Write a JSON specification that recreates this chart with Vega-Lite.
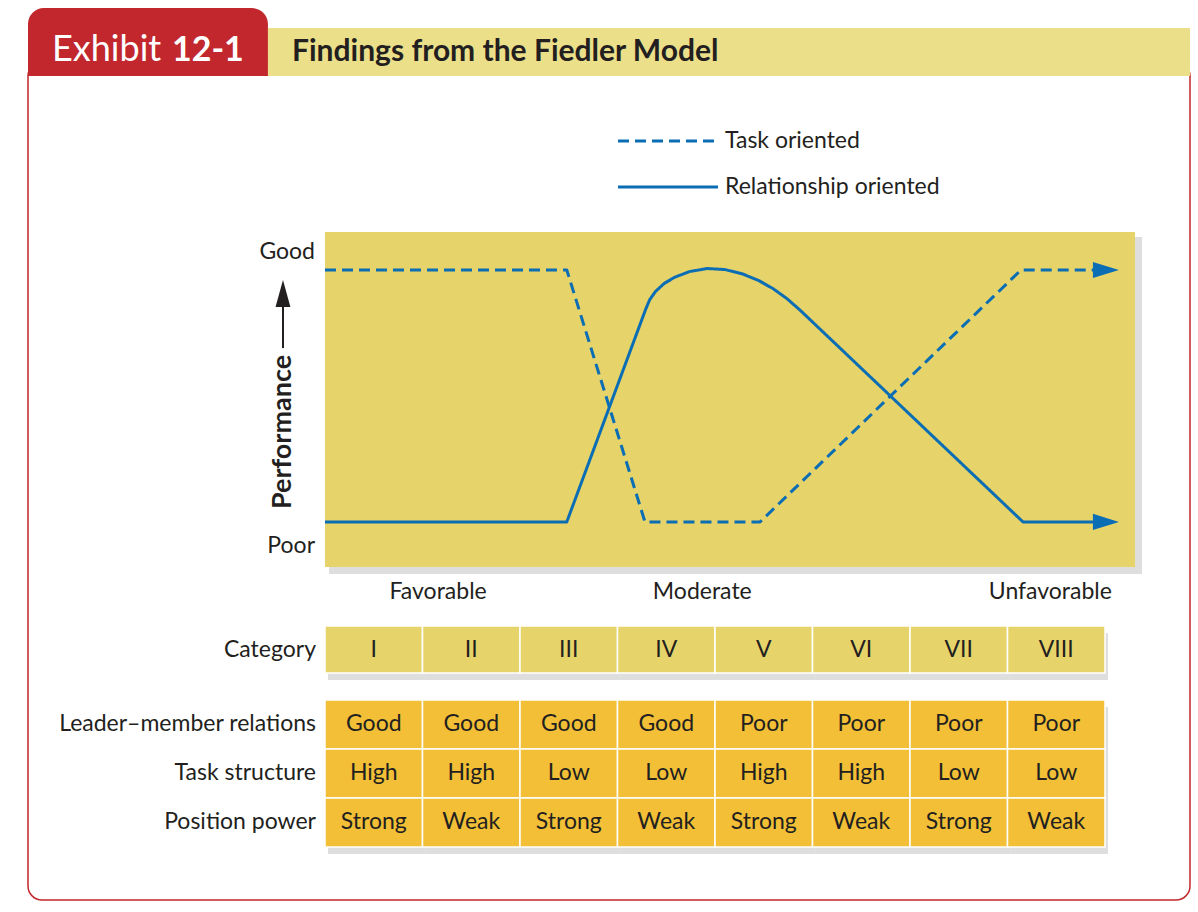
{
  "$schema": "https://vega.github.io/schema/vega-lite/v6.json",
  "width": 1162,
  "height": 838,
  "padding": {"left": 28, "top": 62, "right": 8, "bottom": 12},
  "autosize": {"type": "none"},
  "background": "white",
  "config": {
    "font": "Lato",
    "view": {"stroke": "#c1272d", "strokeWidth": 1.5, "cornerRadius": 14},
    "text": {"color": "#231f20", "fontSize": 23, "baseline": "middle"}
  },
  "datasets": {
    "lines": [
      {"style": "Task oriented", "pos": 0.5, "perf": 1},
      {"style": "Task oriented", "pos": 2.98, "perf": 1},
      {"style": "Task oriented", "pos": 3.782, "perf": 0},
      {"style": "Task oriented", "pos": 4.962, "perf": 0},
      {"style": "Task oriented", "pos": 7.638, "perf": 1},
      {"style": "Task oriented", "pos": 8.45, "perf": 1},
      {"style": "Relationship oriented", "pos": 0.5, "perf": 0},
      {"style": "Relationship oriented", "pos": 2.98, "perf": 0},
      {"style": "Relationship oriented", "pos": 3.79, "perf": 0.845},
      {"style": "Relationship oriented", "pos": 3.83, "perf": 0.882},
      {"style": "Relationship oriented", "pos": 3.89, "perf": 0.915},
      {"style": "Relationship oriented", "pos": 3.98, "perf": 0.947},
      {"style": "Relationship oriented", "pos": 4.09, "perf": 0.972},
      {"style": "Relationship oriented", "pos": 4.24, "perf": 0.994},
      {"style": "Relationship oriented", "pos": 4.42, "perf": 1.006},
      {"style": "Relationship oriented", "pos": 4.6, "perf": 1.002},
      {"style": "Relationship oriented", "pos": 4.78, "perf": 0.985},
      {"style": "Relationship oriented", "pos": 4.95, "perf": 0.958},
      {"style": "Relationship oriented", "pos": 5.1, "perf": 0.925},
      {"style": "Relationship oriented", "pos": 5.24, "perf": 0.886},
      {"style": "Relationship oriented", "pos": 5.38, "perf": 0.838},
      {"style": "Relationship oriented", "pos": 7.659, "perf": 0},
      {"style": "Relationship oriented", "pos": 8.45, "perf": 0}
    ],
    "arrowheads": [
      {"style": "Task oriented", "pos": 8.51, "perf": 1},
      {"style": "Relationship oriented", "pos": 8.51, "perf": 0}
    ],
    "levels": [
      {"label": "Good", "perf": 1.071},
      {"label": "Poor", "perf": -0.095}
    ],
    "favorability": [
      {"label": "Favorable", "pos": 1.66},
      {"label": "Moderate", "pos": 4.37},
      {"label": "Unfavorable", "pos": 7.94}
    ],
    "styles": [
      {"style": "Task oriented"},
      {"style": "Relationship oriented"}
    ],
    "categories": [
      {"row": "Category", "cat": "I"},
      {"row": "Category", "cat": "II"},
      {"row": "Category", "cat": "III"},
      {"row": "Category", "cat": "IV"},
      {"row": "Category", "cat": "V"},
      {"row": "Category", "cat": "VI"},
      {"row": "Category", "cat": "VII"},
      {"row": "Category", "cat": "VIII"}
    ],
    "conditions": [
      {"row": "Leader–member relations", "cat": "I", "value": "Good"},
      {"row": "Leader–member relations", "cat": "II", "value": "Good"},
      {"row": "Leader–member relations", "cat": "III", "value": "Good"},
      {"row": "Leader–member relations", "cat": "IV", "value": "Good"},
      {"row": "Leader–member relations", "cat": "V", "value": "Poor"},
      {"row": "Leader–member relations", "cat": "VI", "value": "Poor"},
      {"row": "Leader–member relations", "cat": "VII", "value": "Poor"},
      {"row": "Leader–member relations", "cat": "VIII", "value": "Poor"},
      {"row": "Task structure", "cat": "I", "value": "High"},
      {"row": "Task structure", "cat": "II", "value": "High"},
      {"row": "Task structure", "cat": "III", "value": "Low"},
      {"row": "Task structure", "cat": "IV", "value": "Low"},
      {"row": "Task structure", "cat": "V", "value": "High"},
      {"row": "Task structure", "cat": "VI", "value": "High"},
      {"row": "Task structure", "cat": "VII", "value": "Low"},
      {"row": "Task structure", "cat": "VIII", "value": "Low"},
      {"row": "Position power", "cat": "I", "value": "Strong"},
      {"row": "Position power", "cat": "II", "value": "Weak"},
      {"row": "Position power", "cat": "III", "value": "Strong"},
      {"row": "Position power", "cat": "IV", "value": "Weak"},
      {"row": "Position power", "cat": "V", "value": "Strong"},
      {"row": "Position power", "cat": "VI", "value": "Weak"},
      {"row": "Position power", "cat": "VII", "value": "Strong"},
      {"row": "Position power", "cat": "VIII", "value": "Weak"}
    ],
    "conditionRows": [
      {"row": "Leader–member relations"},
      {"row": "Task structure"},
      {"row": "Position power"}
    ]
  },
  "layer": [
    {
      "layer": [
        {
          "data": {"values": [{"element": "exhibit tab"}]},
          "mark": {"type": "rect", "fill": "#c1272d", "cornerRadiusTopLeft": 16, "cornerRadiusTopRight": 16},
          "encoding": {
            "x": {"datum": 0, "type": "quantitative", "scale": {"domain": [0, 1], "range": [0, 1162], "zero": false, "nice": false}, "axis": null},
            "x2": {"datum": 0.2065},
            "y": {"datum": 0, "type": "quantitative", "scale": {"domain": [0, 1], "range": [-54, 14], "zero": false, "nice": false}, "axis": null},
            "y2": {"datum": 1}
          }
        },
        {
          "data": {"values": [{"element": "title bar"}]},
          "mark": {"type": "rect", "fill": "#ecdf8a"},
          "encoding": {
            "x": {"datum": 0.2065, "type": "quantitative", "axis": null},
            "x2": {"datum": 1},
            "y": {"datum": 0.294, "type": "quantitative", "axis": null},
            "y2": {"datum": 1}
          }
        },
        {
          "data": {"values": [{"label": "Exhibit"}]},
          "mark": {"type": "text", "align": "left", "baseline": "alphabetic", "fontSize": 36, "color": "white"},
          "encoding": {
            "x": {"datum": 0.0207, "type": "quantitative", "axis": null},
            "y": {"datum": 0.78, "type": "quantitative", "axis": null},
            "text": {"field": "label"}
          }
        },
        {
          "data": {"values": [{"label": "12-1"}]},
          "mark": {"type": "text", "align": "left", "baseline": "alphabetic", "fontSize": 34, "fontWeight": "bold", "color": "white"},
          "encoding": {
            "x": {"datum": 0.1239, "type": "quantitative", "axis": null},
            "y": {"datum": 0.78, "type": "quantitative", "axis": null},
            "text": {"field": "label"}
          }
        },
        {
          "data": {"values": [{"label": "Findings from the Fiedler Model"}]},
          "mark": {"type": "text", "align": "left", "baseline": "alphabetic", "fontSize": 30, "fontWeight": "bold", "color": "#231f20"},
          "encoding": {
            "x": {"datum": 0.2272, "type": "quantitative", "axis": null},
            "y": {"datum": 0.78, "type": "quantitative", "axis": null},
            "text": {"field": "label"}
          }
        }
      ]
    },
    {
      "layer": [
        {
          "data": {"values": [{"element": "plot shadow"}]},
          "mark": {"type": "rect", "fill": "#8a8a8a", "opacity": 0.28, "xOffset": 4, "x2Offset": 7, "yOffset": 7, "y2Offset": 5},
          "encoding": {
            "x": {"datum": 0.5, "type": "quantitative", "scale": {"domain": [0.5, 8.808], "range": [297, 1107], "zero": false, "nice": false}, "axis": null},
            "x2": {"datum": 8.808},
            "y": {"datum": -0.179, "type": "quantitative", "scale": {"domain": [-0.179, 1.151], "range": [505, 170], "zero": false, "nice": false}, "axis": null},
            "y2": {"datum": 1.151}
          }
        },
        {
          "data": {"values": [{"element": "plot area"}]},
          "mark": {"type": "rect", "fill": "#e6d46b"},
          "encoding": {
            "x": {"datum": 0.5, "type": "quantitative", "axis": null},
            "x2": {"datum": 8.808},
            "y": {"datum": -0.179, "type": "quantitative", "axis": null},
            "y2": {"datum": 1.151}
          }
        },
        {
          "data": {"name": "lines"},
          "mark": {"type": "line", "color": "#0b6db3", "strokeWidth": 3, "strokeJoin": "round"},
          "encoding": {
            "x": {"field": "pos", "type": "quantitative", "axis": null},
            "y": {"field": "perf", "type": "quantitative", "axis": null},
            "strokeDash": {"field": "style", "type": "nominal", "scale": {"domain": ["Task oriented", "Relationship oriented"], "range": [[11, 6], [1, 0]]}, "legend": null}
          }
        },
        {
          "data": {"name": "arrowheads"},
          "mark": {"type": "point", "shape": "M-1,-0.62L1,0L-1,0.62Z", "size": 676, "filled": true, "opacity": 1, "color": "#0b6db3", "strokeWidth": 0},
          "encoding": {
            "x": {"field": "pos", "type": "quantitative", "axis": null},
            "y": {"field": "perf", "type": "quantitative", "axis": null}
          }
        },
        {
          "data": {"name": "levels"},
          "mark": {"type": "text", "align": "right", "dx": -10},
          "encoding": {
            "x": {"datum": 0.5, "type": "quantitative", "axis": null},
            "y": {"field": "perf", "type": "quantitative", "axis": null},
            "text": {"field": "label"}
          }
        },
        {
          "data": {"name": "favorability"},
          "mark": {"type": "text", "align": "center"},
          "encoding": {
            "x": {"field": "pos", "type": "quantitative", "axis": null},
            "y": {"datum": -0.278, "type": "quantitative", "axis": null},
            "text": {"field": "label"}
          }
        },
        {
          "data": {"values": [{"label": "Performance"}]},
          "mark": {"type": "text", "align": "center", "angle": 270, "fontWeight": "bold", "fontSize": 27},
          "encoding": {
            "x": {"datum": 0.069, "type": "quantitative", "axis": null},
            "y": {"datum": 0.357, "type": "quantitative", "axis": null},
            "text": {"field": "label"}
          }
        },
        {
          "data": {"values": [{"element": "performance arrow"}]},
          "mark": {"type": "rule", "color": "#231f20", "strokeWidth": 2},
          "encoding": {
            "x": {"datum": 0.069, "type": "quantitative", "axis": null},
            "y": {"datum": 0.69, "type": "quantitative", "axis": null},
            "y2": {"datum": 0.86}
          }
        },
        {
          "data": {"values": [{"element": "performance arrowhead"}]},
          "mark": {"type": "point", "shape": "M0,-1L0.55,1L-0.55,1Z", "size": 729, "filled": true, "opacity": 1, "color": "#231f20", "strokeWidth": 0},
          "encoding": {
            "x": {"datum": 0.069, "type": "quantitative", "axis": null},
            "y": {"datum": 0.907, "type": "quantitative", "axis": null}
          }
        }
      ]
    },
    {
      "data": {"name": "styles"},
      "layer": [
        {
          "mark": {"type": "rule", "color": "#0b6db3", "strokeWidth": 3},
          "encoding": {
            "x": {"datum": 0, "type": "quantitative", "scale": {"domain": [0, 1], "range": [590, 690], "zero": false, "nice": false}, "axis": null},
            "x2": {"datum": 1},
            "y": {"field": "style", "type": "nominal", "scale": {"type": "point", "domain": ["Task oriented", "Relationship oriented"], "range": [79, 125], "padding": 0}, "axis": null},
            "strokeDash": {"field": "style", "type": "nominal", "legend": null}
          }
        },
        {
          "mark": {"type": "text", "align": "left", "dx": 7},
          "encoding": {
            "x": {"datum": 1, "type": "quantitative", "axis": null},
            "y": {"field": "style", "type": "nominal", "axis": null},
            "text": {"field": "style"}
          }
        }
      ]
    },
    {
      "layer": [
        {
          "data": {"name": "categories"},
          "mark": {"type": "rect", "fill": "#8a8a8a", "opacity": 0.28, "xOffset": 3, "x2Offset": 5, "yOffset": 7, "y2Offset": 4},
          "encoding": {
            "x": {"field": "cat", "type": "nominal", "scale": {"type": "band", "domain": ["I", "II", "III", "IV", "V", "VI", "VII", "VIII"], "range": [297, 1077], "paddingInner": 0, "paddingOuter": 0}, "axis": null},
            "y": {"field": "row", "type": "nominal", "scale": {"type": "band", "domain": ["Category"], "range": [564, 611], "paddingInner": 0, "paddingOuter": 0}, "axis": null}
          }
        },
        {
          "data": {"name": "categories"},
          "mark": {"type": "rect", "fill": "#e6d46b", "stroke": "white", "strokeWidth": 1.5},
          "encoding": {
            "x": {"field": "cat", "type": "nominal", "axis": null},
            "y": {"field": "row", "type": "nominal", "axis": null}
          }
        },
        {
          "data": {"name": "categories"},
          "mark": {"type": "text", "align": "center"},
          "encoding": {
            "x": {"field": "cat", "type": "nominal", "axis": null},
            "y": {"field": "row", "type": "nominal", "axis": null},
            "text": {"field": "cat"}
          }
        },
        {
          "data": {"values": [{"row": "Category"}]},
          "mark": {"type": "text", "align": "right", "dx": -9},
          "encoding": {
            "x": {"datum": "I", "type": "nominal", "bandPosition": 0, "axis": null},
            "y": {"field": "row", "type": "nominal", "axis": null},
            "text": {"field": "row"}
          }
        }
      ]
    },
    {
      "layer": [
        {
          "data": {"name": "conditions"},
          "mark": {"type": "rect", "fill": "#8a8a8a", "opacity": 0.28, "xOffset": 3, "x2Offset": 5, "yOffset": 7, "y2Offset": 4},
          "encoding": {
            "x": {"field": "cat", "type": "nominal", "scale": {"type": "band", "domain": ["I", "II", "III", "IV", "V", "VI", "VII", "VIII"], "range": [297, 1077], "paddingInner": 0, "paddingOuter": 0}, "axis": null},
            "y": {"field": "row", "type": "nominal", "scale": {"type": "band", "domain": ["Leader–member relations", "Task structure", "Position power"], "range": [638, 785], "paddingInner": 0, "paddingOuter": 0}, "axis": null}
          }
        },
        {
          "data": {"name": "conditions"},
          "mark": {"type": "rect", "fill": "#f2bf36", "stroke": "white", "strokeWidth": 1.5},
          "encoding": {
            "x": {"field": "cat", "type": "nominal", "axis": null},
            "y": {"field": "row", "type": "nominal", "axis": null}
          }
        },
        {
          "data": {"name": "conditions"},
          "mark": {"type": "text", "align": "center", "dy": -1},
          "encoding": {
            "x": {"field": "cat", "type": "nominal", "axis": null},
            "y": {"field": "row", "type": "nominal", "axis": null},
            "text": {"field": "value"}
          }
        },
        {
          "data": {"name": "conditionRows"},
          "mark": {"type": "text", "align": "right", "dx": -9, "dy": -1},
          "encoding": {
            "x": {"datum": "I", "type": "nominal", "bandPosition": 0, "axis": null},
            "y": {"field": "row", "type": "nominal", "axis": null},
            "text": {"field": "row"}
          }
        }
      ]
    }
  ],
  "resolve": {"scale": {"x": "independent", "y": "independent"}}
}
